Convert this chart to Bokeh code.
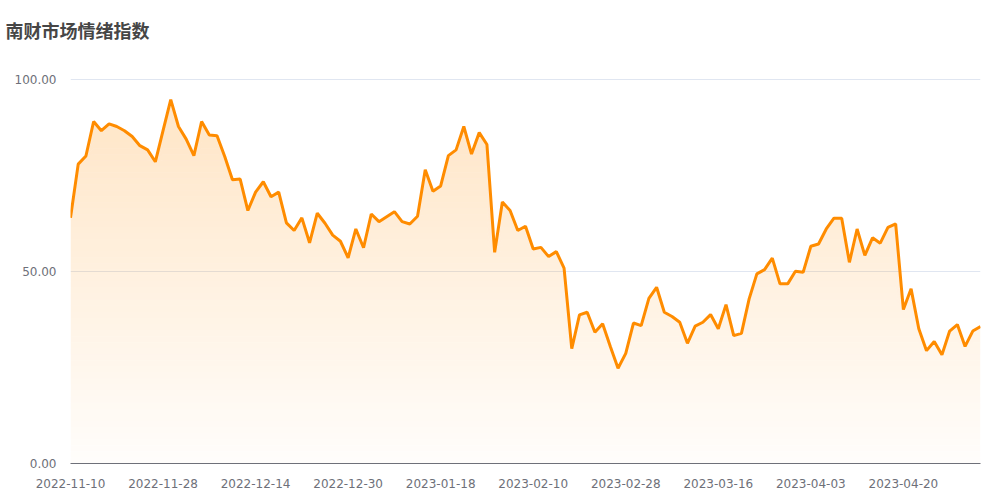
import numpy as np
from bokeh.plotting import figure
from bokeh.models import Range1d, FixedTicker, NumeralTickFormatter
from bokeh.embed import file_html
from bokeh.resources import INLINE

title_text = "南财市场情绪指数"

dates = (
    ["2022-11-%02d" % d for d in [10, 11, 14, 15, 16, 17, 18, 21, 22, 23, 24, 25, 28, 29, 30]]
    + ["2022-12-%02d" % d for d in [1, 2, 5, 6, 7, 8, 9, 12, 13, 14, 15, 16, 19, 20, 21, 22, 23, 26, 27, 28, 29, 30]]
    + ["2023-01-%02d" % d for d in [3, 4, 5, 6, 9, 10, 11, 12, 13, 16, 17, 18, 19, 20, 30, 31]]
    + ["2023-02-%02d" % d for d in [1, 2, 3, 6, 7, 8, 9, 10, 13, 14, 15, 16, 17, 20, 21, 22, 23, 24, 27, 28]]
    + ["2023-03-%02d" % d for d in [1, 2, 3, 6, 7, 8, 9, 10, 13, 14, 15, 16, 17, 20, 21, 22, 23, 24, 27, 28, 29, 30, 31]]
    + ["2023-04-%02d" % d for d in [3, 4, 6, 7, 10, 11, 12, 13, 14, 17, 18, 19, 20, 21, 24, 25, 26, 27, 28]]
    + ["2023-05-%02d" % d for d in [4, 5, 8, 9]]
)

values = [
    64.0, 78.0, 80.1, 89.1, 86.7, 88.5, 87.8, 86.7, 85.2, 82.8,
    81.7, 78.6, 86.7, 94.8, 87.8, 84.5, 80.2, 89.1, 85.6, 85.4,
    80.0, 73.9, 74.1, 65.9, 70.7, 73.4, 69.5, 70.7, 62.7, 60.7,
    64.0, 57.5, 65.2, 62.6, 59.5, 57.9, 53.6, 61.1, 56.2, 65.0,
    63.0, 64.3, 65.6, 63.0, 62.4, 64.4, 76.5, 70.9, 72.3, 80.2,
    81.7, 87.8, 80.6, 86.2, 83.1, 55.0, 68.1, 65.9, 60.7, 61.8,
    55.9, 56.3, 53.9, 55.2, 50.9, 29.9, 38.7, 39.4, 34.2, 36.4,
    30.5, 24.8, 28.7, 36.6, 35.9, 43.0, 45.9, 39.4, 38.3, 36.8,
    31.3, 35.8, 36.8, 38.8, 35.1, 41.4, 33.3, 33.9, 42.9, 49.4,
    50.5, 53.5, 46.8, 46.8, 50.1, 49.8, 56.6, 57.2, 61.1, 63.9,
    63.9, 52.4, 61.1, 54.2, 58.8, 57.4, 61.5, 62.4, 40.1, 45.5,
    35.1, 29.4, 31.8, 28.3, 34.5, 36.2, 30.5, 34.5, 35.7,
]

y_ticks = [0, 50, 100]
x_label_step = 12

n = len(values)
idx = np.arange(n)
vals = np.array(values)

# a blank second title line lifts the title text toward the top of the canvas
p = figure(
    width=1000, height=495, output_backend="svg", toolbar_location=None,
    x_range=Range1d(0, n - 1), y_range=Range1d(0, 100.3),
    min_border_left=70, min_border_right=20, min_border_top=78, min_border_bottom=32,
    title=title_text + "\n\u3000",
)
p.outline_line_color = None
p.background_fill_color = "white"
p.border_fill_color = "white"

p.title.align = "left"
p.title.vertical_align = "top"
p.title.offset = -65
p.title.standoff = 16
p.title.text_font = "Noto Sans CJK SC"
p.title.text_font_style = "bold"
p.title.text_font_size = "18px"
p.title.text_color = "#464646"

# gradient area (bands with increasing alpha toward top)
ymax = vals.max()
nb = 60
edges = np.linspace(0, ymax, nb + 1)
for k in range(nb):
    lo, hi = edges[k], edges[k + 1]
    mid = (lo + hi) / 2
    a = 0.015 + 0.21 * (mid / ymax)
    p.varea(x=idx, y1=np.minimum(vals, lo), y2=np.minimum(vals, hi),
            fill_color="#ff8c00", fill_alpha=a)

p.line(idx, vals, line_color="#ff8c00", line_width=3)

# axes
tick_pos = list(range(0, n, x_label_step))
p.xaxis.ticker = FixedTicker(ticks=tick_pos)
p.xaxis.major_label_overrides = {i: dates[i] for i in tick_pos}
p.xaxis.axis_line_color = "#6e7079"
p.xaxis.axis_line_width = 1
p.xaxis.major_tick_line_color = None
p.xaxis.minor_tick_line_color = None
p.xaxis.major_label_text_color = "#6e7079"
p.xaxis.major_label_text_font = "DejaVu Sans"
p.xaxis.major_label_text_font_size = "12px"
p.xaxis.major_label_standoff = 9

p.yaxis.ticker = FixedTicker(ticks=y_ticks)
p.yaxis.formatter = NumeralTickFormatter(format="0.00")
p.yaxis.axis_line_color = None
p.yaxis.major_tick_line_color = None
p.yaxis.minor_tick_line_color = None
p.yaxis.major_label_text_color = "#6e7079"
p.yaxis.major_label_text_font = "DejaVu Sans"
p.yaxis.major_label_text_font_size = "12px"
p.yaxis.major_label_standoff = 8

p.xgrid.visible = False
p.ygrid.ticker = FixedTicker(ticks=y_ticks)
p.ygrid.grid_line_color = "#e0e6f1"

open("out.html", "w").write(file_html(p, INLINE))
